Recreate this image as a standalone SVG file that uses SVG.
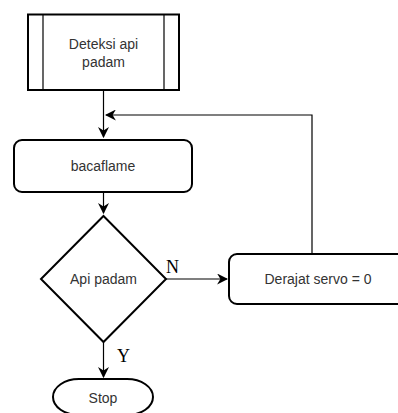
<svg xmlns="http://www.w3.org/2000/svg" width="398" height="413" viewBox="0 0 398 413">
<defs>
<marker id="arrs" viewBox="0 0 10 10" refX="9" refY="5" markerWidth="11" markerHeight="11" orient="auto" markerUnits="userSpaceOnUse">
<path d="M0,0 L10,5 L0,10 L3,5 Z" fill="#000"/>
</marker>
</defs>
<style>
.shape{fill:#fff;stroke:#000;stroke-width:2}
.conn{fill:none;stroke:#000;stroke-width:1.2}
.lbl{font-family:"Liberation Sans",Arial,sans-serif;font-size:14px;fill:#333;text-anchor:middle}
.yn{font-family:"Liberation Serif","Times New Roman",serif;font-size:18px;fill:#000}
</style>
<rect width="398" height="413" fill="#fff"/>
<g id="connectors">
<path class="conn" d="M103.5,90 V137" marker-end="url(#arrs)"/>
<path class="conn" d="M312,254 V115 H106" marker-end="url(#arrs)"/>
<path class="conn" d="M103.5,192 V213" marker-end="url(#arrs)"/>
<path class="conn" d="M166,279 H227" marker-end="url(#arrs)"/>
<path class="conn" d="M103.5,342 V377" marker-end="url(#arrs)"/>
<text class="yn" x="166" y="273">N</text>
<text class="yn" x="117" y="362">Y</text>
</g>
<g id="deteksi">
<rect class="shape" x="28" y="14.5" width="151" height="75.5"/>
<line x1="43" y1="14.5" x2="43" y2="90" stroke="#000" stroke-width="1.2"/>
<line x1="164" y1="14.5" x2="164" y2="90" stroke="#000" stroke-width="1.2"/>
<text class="lbl" x="103.5" y="49">Deteksi api</text>
<text class="lbl" x="103.5" y="67">padam</text>
</g>
<g id="bacaflame">
<rect class="shape" x="14" y="140" width="178" height="52" rx="8"/>
<text class="lbl" x="103" y="171">bacaflame</text>
</g>
<g id="apipadam">
<path class="shape" d="M103.5,216 L166,279 L103.5,342 L41,279 Z"/>
<text class="lbl" x="103.5" y="284">Api padam</text>
</g>
<g id="derajat">
<rect class="shape" x="229" y="254" width="180" height="50" rx="8"/>
<text class="lbl" x="318" y="284">Derajat servo = 0</text>
</g>
<g id="stop">
<rect class="shape" x="53" y="379" width="100" height="36" rx="26" ry="18"/>
<text class="lbl" x="103" y="403">Stop</text>
</g>
</svg>
